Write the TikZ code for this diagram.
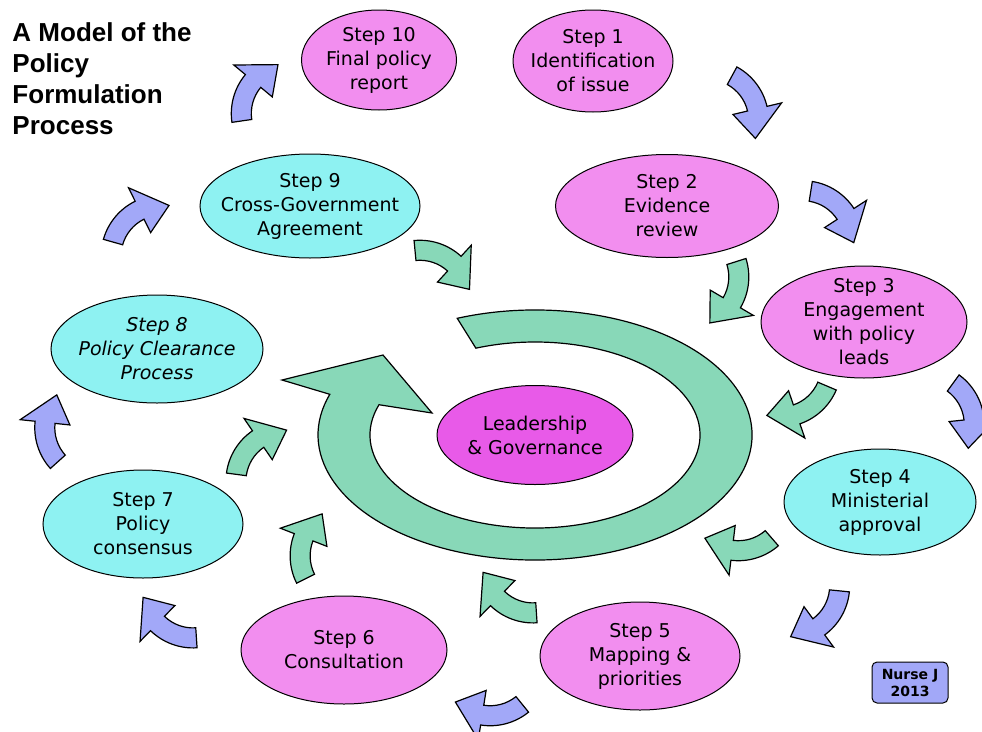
\documentclass[tikz,border=0pt]{standalone}
\usepackage{fontspec}
\setmainfont{DejaVu Sans}
\newfontfamily\titlefont{Liberation Sans}
\usetikzlibrary{shapes.geometric}

\definecolor{steppink}{HTML}{F28EEF}
\definecolor{stepcyan}{HTML}{8EF2F2}
\definecolor{leadpink}{HTML}{E85AE8}
\definecolor{ringgreen}{HTML}{88D8B8}
\definecolor{ringblue}{HTML}{A2A8F8}

\begin{document}
\begin{tikzpicture}[x=1pt, y=-1pt,
      every node/.style = {shape=ellipse, draw, line width=1pt,
        align=center, inner xsep=-40pt, inner ysep=-20pt,
        font=\fontsize{19}{24}\selectfont},
      pinkstep/.style = {fill=steppink},
      cyanstep/.style = {fill=stepcyan},
      bentarrow/.pic = {
        \filldraw[pic actions, draw=black, line width=1.2pt, shift={(29,25)}]
          (180:61) arc[start angle=180, end angle=228, radius=61]
          -- (228:76) -- (262:51) -- (228:26) -- (228:41)
          arc[start angle=228, end angle=180, radius=41] -- cycle;
      }]
  \useasboundingbox (0,0) rectangle (982,731);

  % title and badge
  \node[shape=rectangle, draw=none, anchor=north west, align=left, inner sep=0pt,
    font=\titlefont\bfseries\fontsize{26}{31}\selectfont] (title) at (12,22)
    {A Model of the\\Policy\\Formulation\\Process};
  \node[shape=rectangle, rounded corners=5pt, fill=ringblue, inner sep=0pt,
    minimum width=76pt, minimum height=41pt,
    font=\bfseries\fontsize{14}{17}\selectfont] (badge) at (910,682.5) {Nurse J\\2013};

  % centre and ring
  \node[fill=leadpink, minimum width=196pt, minimum height=99pt] (lead) at (535,435)
    {Leadership\\\& Governance};
  \draw[fill=ringgreen, line width=1.2pt, shift={(lead.center)}]
    (-111:217 and 125) arc[start angle=-111, end angle=199, x radius=217, y radius=125]
    -- (-253,-55) -- (-152,-80) -- (-103,-22)
    -- (199:165 and 93) arc[start angle=199, end angle=-111, x radius=165, y radius=93]
    -- cycle;

  % outer ring of steps
  \node[pinkstep, minimum width=155pt, minimum height=100pt] (s10) at (379,60)
    {Step 10\\Final policy\\report};
  \node[pinkstep, minimum width=160pt, minimum height=102pt] (s1) at (593,61)
    {Step 1\\Identification\\of issue};
  \node[pinkstep, minimum width=223pt, minimum height=103pt] (s2) at (667,206)
    {Step 2\\Evidence\\review};
  \node[pinkstep, minimum width=206pt, minimum height=112pt] (s3) at (864,322)
    {Step 3\\Engagement\\with policy\\leads};
  \node[cyanstep, minimum width=192pt, minimum height=106pt] (s4) at (880,502)
    {Step 4\\Ministerial\\approval};
  \node[pinkstep, minimum width=200pt, minimum height=108pt] (s5) at (640,656)
    {Step 5\\Mapping \&\\priorities};
  \node[pinkstep, minimum width=206pt, minimum height=108pt] (s6) at (344,650)
    {Step 6\\Consultation};
  \node[cyanstep, minimum width=200pt, minimum height=108pt] (s7) at (143,524)
    {Step 7\\Policy\\consensus};
  \node[cyanstep, minimum width=212pt, minimum height=108pt,
    font=\fontsize{19}{24}\selectfont\itshape] (s8) at (157,349)
    {Step 8\\Policy Clearance\\Process};
  \node[cyanstep, minimum width=220pt, minimum height=104pt] (s9) at (310,206)
    {Step 9\\Cross-Government\\Agreement};

  % blue arrows step to step
  \pic[rotate=-118.6, fill=ringblue] at (743.5,107) {bentarrow};
  \pic[rotate=-99, fill=ringblue] at (832,217) {bentarrow};
  \pic[rotate=-126, fill=ringblue] at (960.5,415.5) {bentarrow};
  \pic[rotate=-185.8, fill=ringblue] at (815,613.5) {bentarrow};
  \pic[rotate=129, fill=ringblue] at (489,703) {bentarrow};
  \pic[rotate=93.8, fill=ringblue] at (170,617.5) {bentarrow};
  \pic[rotate=41.9, fill=ringblue] at (57.5,428.5) {bentarrow};
  \pic[rotate=-15.8, fill=ringblue] at (141,224) {bentarrow};
  \pic[rotate=8.3, fill=ringblue] at (260,93) {bentarrow};

  % green arrows into the ring
  \pic[rotate=-84.5, fill=ringgreen] at (442,270) {bentarrow};
  \pic[rotate=-162.4, fill=ringgreen] at (723,292) {bentarrow};
  \pic[rotate=157, fill=ringgreen] at (797,400.5) {bentarrow};
  \pic[rotate=131, fill=ringgreen] at (738.5,538) {bentarrow};
  \pic[rotate=93.8, fill=ringgreen] at (510,592.5) {bentarrow};
  \pic[rotate=26.7, fill=ringgreen] at (314,546.5) {bentarrow};
  \pic[rotate=-7.6, fill=ringgreen] at (261.5,452.5) {bentarrow};
\end{tikzpicture}
\end{document}
